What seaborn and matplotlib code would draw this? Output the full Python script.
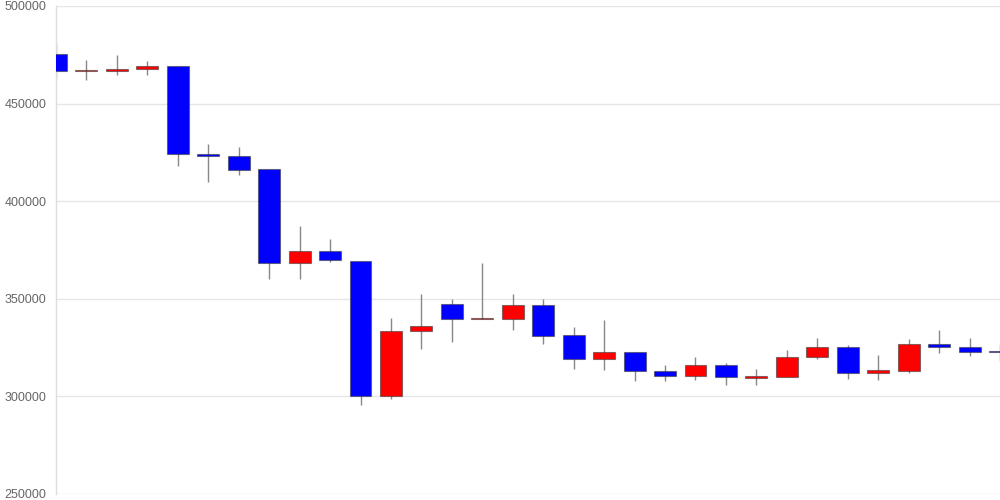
import matplotlib
matplotlib.use("Agg")
import matplotlib.pyplot as plt
import seaborn as sns
import numpy as np

# daily OHLC values
opens = [475400, 466900, 466850, 467560, 469100, 424200, 423300, 416500,
         368500, 374300, 369500, 300200, 333300, 347300, 339700, 339800,
         346600, 331300, 319300, 322600, 313200, 310500, 315900, 309600,
         310100, 320200, 325200, 311800, 313200, 327000, 325200, 323100]
highs = [481000, 472500, 474900, 471800, 469100, 429300, 427800, 416500,
         387300, 380800, 369500, 340200, 352500, 350000, 368300, 352500,
         349900, 335500, 339100, 322600, 316100, 320000, 317000, 314000,
         323800, 330100, 326200, 321000, 329200, 333900, 329900, 326700]
lows = [463100, 462100, 464800, 464650, 418200, 410000, 413600, 360300,
        360000, 369000, 295600, 298800, 324300, 328000, 339500, 334000,
        327000, 314200, 313400, 308000, 308000, 308400, 306000, 305700,
        310100, 319300, 309100, 308600, 312200, 322400, 320500, 318300]
closes = [466700, 467100, 467700, 469260, 424000, 423200, 416100, 368500,
          374300, 369700, 300200, 333300, 335900, 339500, 339800, 346600,
          330900, 319300, 322600, 313000, 310500, 315900, 309800, 310500,
          320300, 325200, 311800, 313400, 327000, 325200, 322900, 322600]
yticks = [250000, 300000, 350000, 400000, 450000, 500000]

sns.set_style("white")
plt.rcParams['font.family'] = ['Liberation Sans', 'DejaVu Sans']

fig = plt.figure(figsize=(10, 5), dpi=100)
ax = fig.add_axes([0.056, 0.012, 0.944, 0.976])

x = np.arange(len(opens))
o = np.array(opens)
c = np.array(closes)
up = c >= o
colors = np.where(up, '#ff0000', '#0000ff')

ax.vlines(x, lows, highs, color='#888888', linewidth=1, zorder=2)
bottoms = np.minimum(o, c)
heights = np.maximum(np.abs(c - o), 300)
ax.bar(x, heights, bottom=bottoms, width=0.72, color=colors,
       edgecolor=(0.25, 0.25, 0.25, 0.6), linewidth=0.8, zorder=3)

ax.set_xlim(0, len(opens) - 1)
ax.set_ylim(250000, 500000)
ax.set_yticks(yticks)
ax.set_yticklabels([str(v) for v in yticks])
ax.set_xticks([])
ax.grid(axis='y', color='#e6e6e6', linewidth=1, zorder=0)
ax.tick_params(axis='y', length=0, pad=7, labelsize=9, labelcolor='#666666')
for s in ['top', 'right', 'bottom']:
    ax.spines[s].set_visible(False)
ax.spines['left'].set_color('#dddddd')
ax.spines['left'].set_linewidth(1)

fig.savefig('out.png', dpi=100)
